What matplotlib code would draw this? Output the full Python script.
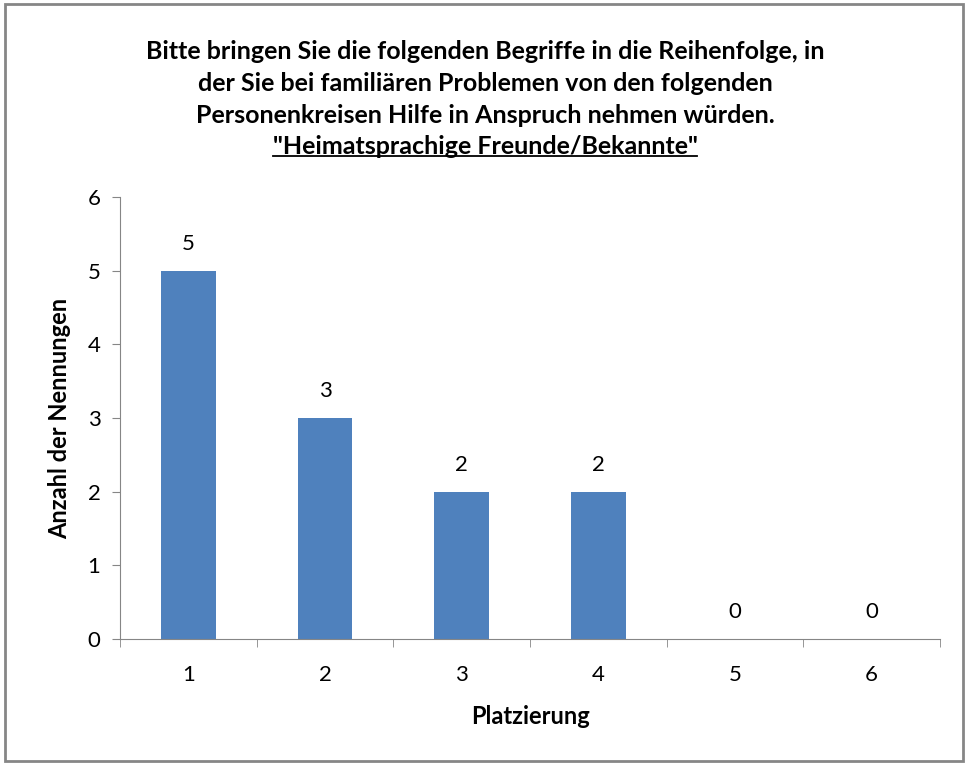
import matplotlib.pyplot as plt
from matplotlib.patches import Rectangle

platz = ['1', '2', '3', '4', '5', '6']
nennungen = [5, 3, 2, 2, 0, 0]

title_lines = [
    'Bitte bringen Sie die folgenden Begriffe in die Reihenfolge, in',
    'der Sie bei familiären Problemen von den folgenden',
    'Personenkreisen Hilfe in Anspruch nehmen würden.',
]
title_sub = '"Heimatsprachige Freunde/Bekannte"'

plt.rcParams['font.family'] = ['Lato', 'DejaVu Sans']
bar_color = '#4F81BD'
axis_color = '#868686'

fig = plt.figure(figsize=(9.7, 7.64), dpi=100)
ax = fig.add_axes([0.1237, 0.1636, 0.8454, 0.5785])

x = list(range(len(platz)))
bars = ax.bar(x, nennungen, width=0.4, color=bar_color)
for xi, v in zip(x, nennungen):
    ax.annotate(str(v), (xi, v), xytext=(0, 12), textcoords='offset points',
                ha='center', va='bottom', fontsize=16)

ax.set_xlim(-0.5, len(platz) - 0.5)
ax.set_ylim(0, 6)
ax.set_yticks(range(0, 7))
ax.set_xticks(x)
ax.set_xticklabels(platz)
ax.set_xticks([i - 0.5 for i in range(len(platz) + 1)], minor=True)
ax.tick_params(axis='x', which='major', length=0, pad=19, labelsize=16)
ax.tick_params(axis='x', which='minor', length=6, color=axis_color)
ax.tick_params(axis='y', length=6, color=axis_color, labelsize=16, pad=8)

for s in ['top', 'right']:
    ax.spines[s].set_visible(False)
for s in ['left', 'bottom']:
    ax.spines[s].set_color(axis_color)

ax.set_xlabel('Platzierung', fontsize=17, fontweight='bold', labelpad=14)
ax.set_ylabel('Anzahl der Nennungen', fontsize=17, fontweight='bold', labelpad=12)

ys = [0.933, 0.891, 0.849]
for t, yy in zip(title_lines, ys):
    fig.text(0.5, yy, t, ha='center', va='center', fontsize=18, fontweight='bold')
sub = fig.text(0.5, 0.808, title_sub, ha='center', va='center', fontsize=18, fontweight='bold')

# underline the sub title
fig.canvas.draw()
bb = sub.get_window_extent().transformed(fig.transFigure.inverted())
fig.add_artist(plt.Line2D([bb.x0, bb.x1], [bb.y0 + 0.003, bb.y0 + 0.003], color='black', lw=1.3,
                          transform=fig.transFigure))

fig.add_artist(Rectangle((0.005, 0.004), 0.988, 0.991, transform=fig.transFigure,
                         fill=False, edgecolor=axis_color, lw=2))

fig.savefig('out.png', dpi=100)
